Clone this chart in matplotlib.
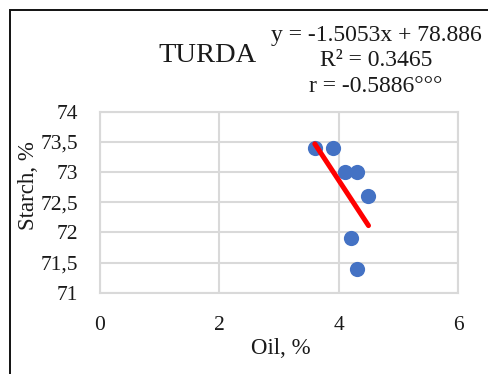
import matplotlib
matplotlib.use("Agg")
import matplotlib.pyplot as plt
from matplotlib.patches import Rectangle
from matplotlib.ticker import FuncFormatter
import numpy as np

# Oil vs starch content, TURDA samples
oil = [3.6, 3.9, 4.1, 4.3, 4.5, 4.2, 4.3]
starch = [73.4, 73.4, 73.0, 73.0, 72.6, 71.9, 71.4]

# Linear trend reported on the chart
slope = -1.5053
intercept = 78.886
r_squared = 0.3465
r_value = -0.5886

x_ticks = [0, 2, 4, 6]
y_ticks = [71, 71.5, 72, 72.5, 73, 73.5, 74]

plt.rcParams["font.family"] = ["Liberation Serif", "DejaVu Serif"]

W, H = 489, 374
fig = plt.figure(figsize=(W / 100, H / 100), dpi=100)

ax = fig.add_axes([100 / W, 1 - 292.7 / H, 358 / W, 181 / H])

grid_color = "#d9d9d9"
ax.scatter(oil, starch, s=120, color="#4472C4", zorder=3, linewidths=0)

xs = np.array([min(oil), max(oil)])
ax.plot(xs, slope * xs + intercept, color="#FF0000", linewidth=3.6,
        solid_capstyle="round", zorder=4)

ax.set_xlim(0, 6)
ax.set_ylim(71, 74)
ax.set_xticks(x_ticks)
ax.set_yticks(y_ticks)
fmt = FuncFormatter(lambda v, _: f"{v:g}".replace(".", ","))
ax.xaxis.set_major_formatter(fmt)
ax.yaxis.set_major_formatter(fmt)
ax.tick_params(length=0, labelsize=15.5, colors="#1a1a1a", pad=16)
ax.tick_params(axis="x", pad=17)
ax.grid(True, color=grid_color, linewidth=1.5)
ax.set_axisbelow(True)
for sp in ax.spines.values():
    sp.set_color(grid_color)
    sp.set_linewidth(1.5)

# Axis titles
fig.text(281 / W, 1 - 348 / H, "Oil, %", ha="center", va="center",
         fontsize=16.5, color="#1a1a1a")
fig.text(29 / W, 1 - 186 / H, "Starch, %", ha="center", va="center",
         rotation=90, fontsize=16.5, color="#1a1a1a")

# Title and regression statistics
fig.text(208 / W, 1 - 55 / H, "TURDA", ha="center", va="center",
         fontsize=20.5, color="#1a1a1a")
stats = (f"y = {slope:.4f}x + {intercept:.3f}\n"
         f"R² = {r_squared:.4f}\n"
         f"r = {r_value:.4f}°°°")
fig.text(376 / W, 1 - 61 / H, stats, ha="center", va="center",
         fontsize=17, color="#1a1a1a", linespacing=1.28, multialignment="center")

# Chart frame
fig.add_artist(Rectangle((9.5 / W, -0.1), 1.2, 1 - 10.5 / H + 0.1,
                         transform=fig.transFigure, fill=False,
                         edgecolor="#111111", linewidth=1.4))

fig.savefig("out.png", dpi=100)
